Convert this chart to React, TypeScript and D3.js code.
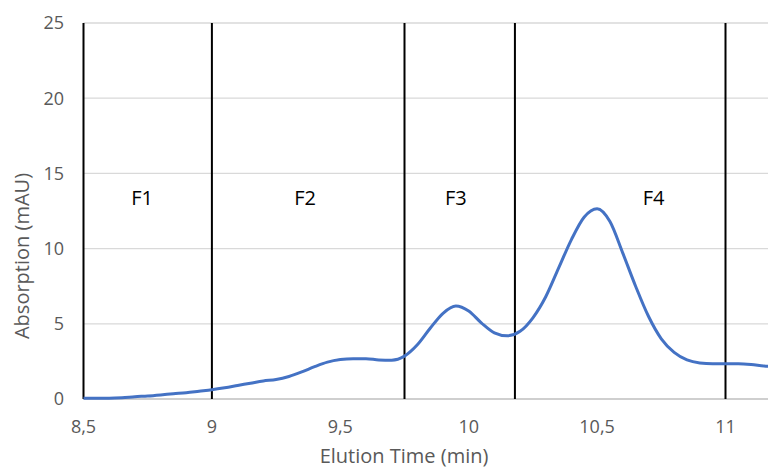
import * as d3 from "d3";
import { useEffect, useRef } from "react";

// elution time (min) and absorbance (mAU)
const times = [
  8.5, 8.55, 8.6, 8.65, 8.7, 8.75, 8.8, 8.85, 8.9, 8.95, 9.0, 9.05, 9.1, 9.15, 9.2, 9.25, 9.3, 9.35, 9.4, 9.45,
  9.5, 9.55, 9.6, 9.65, 9.7, 9.75, 9.8, 9.85, 9.9, 9.95, 10.0, 10.05, 10.1, 10.15, 10.2, 10.25, 10.3, 10.35, 10.4,
  10.45, 10.5, 10.55, 10.6, 10.65, 10.7, 10.75, 10.8, 10.85, 10.9, 10.95, 11.0, 11.05, 11.1, 11.15, 11.2,
];
const absorbance = [
  0.05, 0.05, 0.05, 0.08, 0.15, 0.2, 0.27, 0.35, 0.42, 0.52, 0.62, 0.75, 0.9, 1.05, 1.2, 1.3, 1.5, 1.8, 2.15, 2.45,
  2.62, 2.68, 2.68, 2.6, 2.58, 2.85, 3.6, 4.7, 5.7, 6.18, 5.85, 5.05, 4.4, 4.2, 4.5, 5.4, 6.8, 8.7, 10.6,
  12.1, 12.65, 11.8, 9.7, 7.5, 5.5, 4.0, 3.1, 2.6, 2.4, 2.35, 2.35, 2.35, 2.3, 2.2, 2.15,
];

// fraction cut points and labels
const fractionCuts = [8.5, 9, 9.75, 10.18, 11];
const fractionNames = ["F1", "F2", "F3", "F4"];
const fractionLabelX = [8.728, 9.363, 9.95, 10.72];
const fractionLabelY = 13.35;

const xTicks = [8.5, 9, 9.5, 10, 10.5, 11];
const yTicks = [0, 5, 10, 15, 20, 25];

const Chromatogram = () => {
  const ref = useRef<SVGSVGElement>(null);

  useEffect(() => {
    const svg = d3.select(ref.current);
    svg.selectAll("*").remove();

    const width = 768;
    const font = "'Open Sans', sans-serif";

    const x = d3.scaleLinear().domain([8.5, 11]).range([83.5, 725.5]);
    const y = d3.scaleLinear().domain([0, 25]).range([399, 23]);

    const data = times.map((t, i) => ({ t, v: absorbance[i] }));

    // gridlines
    svg.append("g")
      .selectAll("line")
      .data(yTicks)
      .join("line")
      .attr("x1", x(8.5))
      .attr("x2", width)
      .attr("y1", d => y(d))
      .attr("y2", d => y(d))
      .attr("stroke", d => (d === 0 ? "#bfbfbf" : "#d9d9d9"))
      .attr("stroke-width", 1.3);

    // y tick labels
    svg.append("g")
      .selectAll("text")
      .data(yTicks)
      .join("text")
      .attr("x", 64)
      .attr("y", d => y(d))
      .attr("dy", "0.35em")
      .attr("text-anchor", "end")
      .attr("font-family", font)
      .attr("font-size", 18)
      .attr("fill", "#595959")
      .text(d => d);

    // x tick labels, comma decimal
    svg.append("g")
      .selectAll("text")
      .data(xTicks)
      .join("text")
      .attr("x", d => x(d))
      .attr("y", 433)
      .attr("text-anchor", "middle")
      .attr("font-family", font)
      .attr("font-size", 18)
      .attr("fill", "#595959")
      .text(d => String(d).replace(".", ","));

    // axis titles
    svg.append("text")
      .attr("transform", `translate(29, 256) rotate(-90)`)
      .attr("text-anchor", "middle")
      .attr("font-family", font)
      .attr("font-size", 20)
      .attr("fill", "#595959")
      .text("Absorption (mAU)");

    svg.append("text")
      .attr("x", 404)
      .attr("y", 463)
      .attr("text-anchor", "middle")
      .attr("font-family", font)
      .attr("font-size", 20)
      .attr("fill", "#595959")
      .text("Elution Time (min)");

    // fraction boundaries
    svg.append("g")
      .selectAll("line")
      .data(fractionCuts)
      .join("line")
      .attr("x1", d => x(d))
      .attr("x2", d => x(d))
      .attr("y1", y(25))
      .attr("y2", y(0))
      .attr("stroke", "#000")
      .attr("stroke-width", 2);

    svg.append("g")
      .selectAll("text")
      .data(fractionNames)
      .join("text")
      .attr("x", (d, i) => x(fractionLabelX[i]))
      .attr("y", y(fractionLabelY))
      .attr("dy", "0.35em")
      .attr("text-anchor", "middle")
      .attr("font-family", font)
      .attr("font-size", 20)
      .attr("fill", "#000")
      .text(d => d);

    // the trace
    svg.append("path")
      .datum(data)
      .attr("fill", "none")
      .attr("stroke", "#4472c4")
      .attr("stroke-width", 3)
      .attr("stroke-linejoin", "round")
      .attr("d", d3.line<{ t: number; v: number }>()
        .x(d => x(d.t))
        .y(d => y(d.v))
        .curve(d3.curveMonotoneX)
      );
  }, []);

  return (
    <svg ref={ref} width={768} height={470}
      style={{ position: "absolute", left: 0, top: 0, background: "#fff" }} />
  );
};

export default function App() {
  return <Chromatogram />;
}
